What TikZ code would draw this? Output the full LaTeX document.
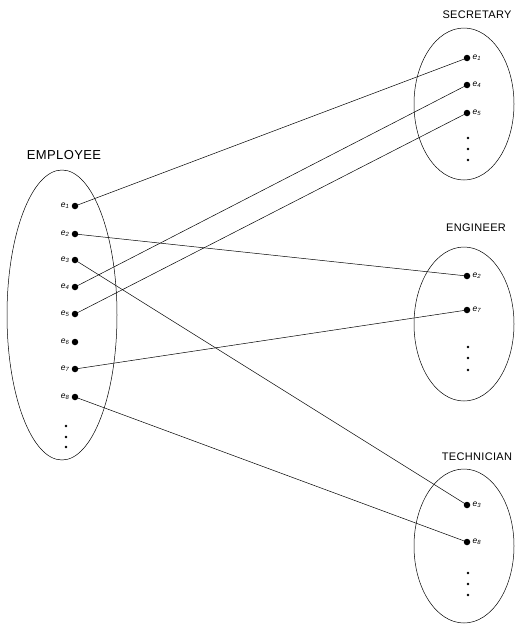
\documentclass[tikz,border=0pt]{standalone}
\usepackage{fontspec}
\setmainfont{Liberation Sans}
\newfontfamily\setlabelfont[LetterSpace=3]{Liberation Sans}
\begin{document}
\begin{tikzpicture}[x=1pt,y=-1pt,
  setshape/.style={draw,line width=0.5pt},
  setname/.style={font=\setlabelfont\fontsize{11}{11}\selectfont},
  elem/.style={circle,fill=black,inner sep=0pt,minimum size=6.5pt},
  moredot/.style={circle,fill=black,inner sep=0pt,minimum size=2.6pt},
  elabel/.style={font=\fontsize{8.5}{8.5}\selectfont\itshape,inner sep=1pt},
  link/.style={line width=0.5pt}]
\useasboundingbox (0,0) rectangle (516,624);

% sets
\draw[setshape] (62,315) ellipse [x radius=55, y radius=145];
\draw[setshape] (464,104) ellipse [x radius=50, y radius=76];
\draw[setshape] (464,324) ellipse [x radius=50, y radius=77];
\draw[setshape] (464,546) ellipse [x radius=50, y radius=77];

\node[setname,font=\setlabelfont\fontsize{13}{13}\selectfont] (lemp) at (64,155) {EMPLOYEE};
\node[setname] (lsec) at (477,15) {SECRETARY};
\node[setname] (leng) at (476,228) {ENGINEER};
\node[setname] (ltec) at (477,457) {TECHNICIAN};

% EMPLOYEE members
\foreach \i/\y in {1/206,2/234,3/260,4/287,5/314,6/342,7/369,8/397}{
  \node[elem] (E\i) at (75,\y) {};
  \node[elabel,anchor=east] (lE\i) at ([xshift=-1pt]E\i.west) {e\textsubscript{\i}};
}
\foreach \y [count=\k] in {426,437,447} \node[moredot] (Ed\k) at (66,\y) {};

% SECRETARY members
\foreach \n/\i/\y in {S1/1/58,S4/4/85,S5/5/113}{
  \node[elem] (\n) at (467,\y) {};
  \node[elabel,anchor=west] (l\n) at ([xshift=1pt]\n.east) {e\textsubscript{\i}};
}
\foreach \y [count=\k] in {138,149,160} \node[moredot] (Sd\k) at (468,\y) {};

% ENGINEER members
\foreach \n/\i/\y in {G2/2/276,G7/7/310}{
  \node[elem] (\n) at (467,\y) {};
  \node[elabel,anchor=west] (l\n) at ([xshift=1pt]\n.east) {e\textsubscript{\i}};
}
\foreach \y [count=\k] in {347,358,370} \node[moredot] (Gd\k) at (468,\y) {};

% TECHNICIAN members
\foreach \n/\i/\y in {T3/3/505,T8/8/542}{
  \node[elem] (\n) at (467,\y) {};
  \node[elabel,anchor=west] (l\n) at ([xshift=1pt]\n.east) {e\textsubscript{\i}};
}
\foreach \y [count=\k] in {573,584,595} \node[moredot] (Td\k) at (468,\y) {};

% role assignments
\draw[link] (E1.center) -- (S1.center);
\draw[link] (E4.center) -- (S4.center);
\draw[link] (E5.center) -- (S5.center);
\draw[link] (E2.center) -- (G2.center);
\draw[link] (E7.center) -- (G7.center);
\draw[link] (E3.center) -- (T3.center);
\draw[link] (E8.center) -- (T8.center);
\end{tikzpicture}
\end{document}
